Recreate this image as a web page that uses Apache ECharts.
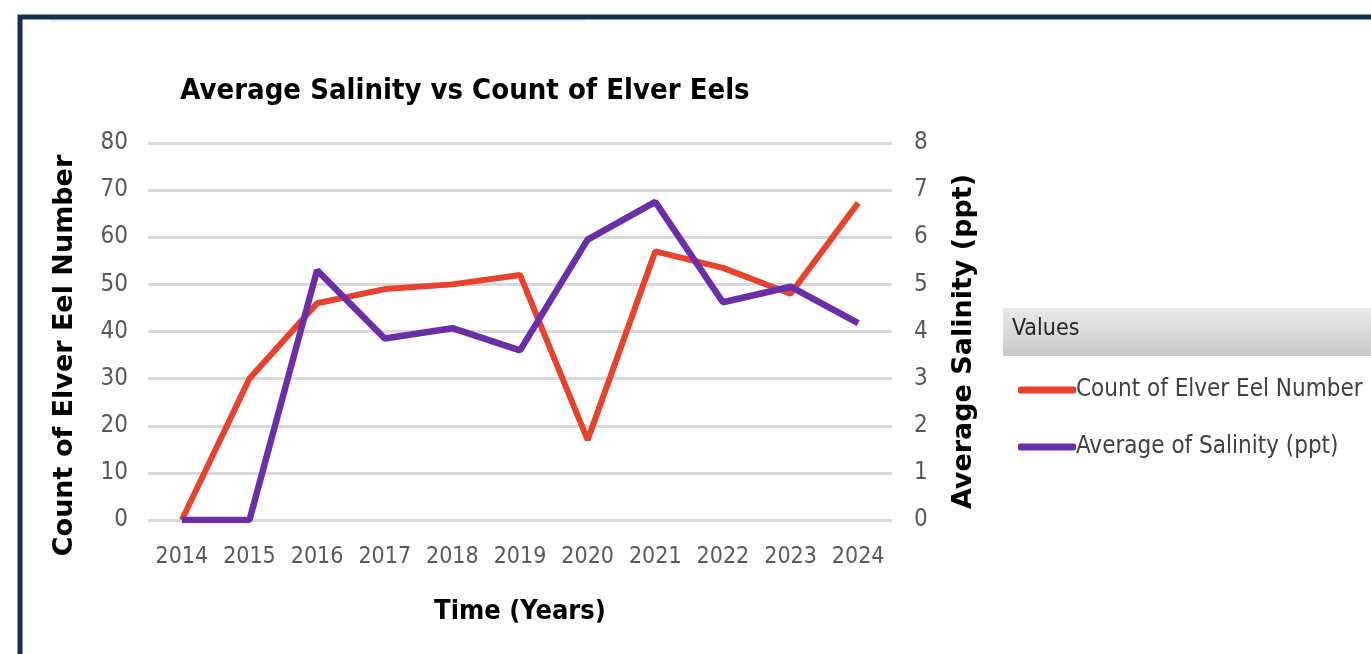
<!DOCTYPE html>
<html lang="en">
<head>
    <meta charset="UTF-8">
    <title>Average Salinity vs Count of Elver Eels</title>
    <style>
        html,body{
            margin: 0;
            height: 100%;
            background: #fff;
        }
        #main{
            width: 1371px;
            height: 654px;
        }
    </style>
</head>
<body>
<script src="https://cdn.jsdelivr.net/npm/echarts@6/dist/echarts.min.js"></script>
<div id="main"></div>
<script>
    // data
    var years = ['2014', '2015', '2016', '2017', '2018', '2019', '2020', '2021', '2022', '2023', '2024'];
    var eelCount = [0, 30, 46, 49, 50, 52, 17, 57, 53.5, 48, 67.3];
    var salinity = [0, 0, 5.3, 3.85, 4.07, 3.6, 5.95, 6.75, 4.62, 4.95, 4.18];

    var narrow = "'Liberation Sans Narrow', 'Arial Narrow', 'DejaVu Sans Condensed', sans-serif";
    var wide = "'DejaVu Sans', Arial, sans-serif";

    var myEcharts = echarts.init(document.getElementById('main'));

    var option = {
        backgroundColor: '#fff',
        animation: false,
        title: {
            text: 'Average Salinity vs Count of Elver Eels',
            left: 460,
            top: 72,
            textAlign: 'center',
            textStyle: {
                fontFamily: narrow,
                fontSize: 29,
                fontWeight: 'bold',
                color: '#000'
            }
        },
        legend: {
            orient: 'vertical',
            left: 1013,
            top: 373,
            itemWidth: 58,
            itemHeight: 7,
            itemGap: 33,
            icon: 'roundRect',
            textStyle: {
                fontFamily: narrow,
                fontSize: 24,
                color: '#404040',
                padding: [0, 0, 0, -5]
            },
            data: ['Count of Elver Eel Number', 'Average of Salinity (ppt)']
        },
        grid: {
            left: 148,
            right: 479,
            top: 143,
            bottom: 134
        },
        xAxis: {
            type: 'category',
            data: years,
            name: 'Time (Years)',
            nameLocation: 'middle',
            nameGap: 78,
            nameTextStyle: {
                fontFamily: narrow,
                fontSize: 27,
                fontWeight: 'bold',
                color: '#000'
            },
            axisLine: { show: false },
            axisTick: { show: false },
            axisLabel: {
                interval: 0,
                margin: 26,
                fontFamily: narrow,
                fontSize: 23,
                color: '#595959'
            }
        },
        yAxis: [{
            type: 'value',
            min: 0,
            max: 80,
            interval: 10,
            name: 'Count of Elver Eel Number',
            nameLocation: 'middle',
            nameGap: 70,
            nameTextStyle: {
                fontFamily: wide,
                fontSize: 27,
                fontWeight: 'bold',
                color: '#000',
                padding: [0, 48, 0, 0]
            },
            axisLabel: {
                margin: 20,
                fontFamily: narrow,
                fontSize: 24,
                color: '#595959'
            },
            splitLine: {
                lineStyle: { color: '#d9d9d9', width: 3 }
            }
        }, {
            type: 'value',
            min: 0,
            max: 8,
            interval: 1,
            name: 'Average Salinity (ppt)',
            nameLocation: 'middle',
            nameGap: 58,
            nameRotate: 90,
            nameTextStyle: {
                fontFamily: wide,
                fontSize: 27,
                fontWeight: 'bold',
                color: '#000',
                padding: [0, 20, 0, 0]
            },
            axisLabel: {
                margin: 22,
                fontFamily: narrow,
                fontSize: 24,
                color: '#595959'
            },
            splitLine: { show: false }
        }],
        series: [{
            name: 'Count of Elver Eel Number',
            type: 'line',
            yAxisIndex: 0,
            data: eelCount,
            showSymbol: false,
            symbol: 'none',
            color: '#e8412c',
            lineStyle: { width: 6, color: '#e8412c' }
        }, {
            name: 'Average of Salinity (ppt)',
            type: 'line',
            yAxisIndex: 1,
            data: salinity,
            showSymbol: false,
            symbol: 'none',
            color: '#6a2fa8',
            lineStyle: { width: 6.5, color: '#6a2fa8' }
        }],
        graphic: [{
            type: 'rect',
            shape: { x: 20, y: 17, width: 1400, height: 700 },
            style: { fill: 'none', stroke: '#15304f', lineWidth: 5 }
        }, {
            type: 'line',
            shape: { x1: 50, y1: 21, x2: 585, y2: 21 },
            style: { stroke: '#eeeeee', lineWidth: 2 }
        }, {
            type: 'rect',
            shape: { x: 1003, y: 308, width: 380, height: 48 },
            style: {
                fill: new echarts.graphic.LinearGradient(0, 0, 0, 1, [
                    { offset: 0, color: '#e9e9e9' },
                    { offset: 1, color: '#c9c9c9' }
                ])
            }
        }, {
            type: 'text',
            left: 1012,
            top: 318,
            style: {
                text: 'Values',
                fontFamily: narrow,
                fontSize: 23,
                fill: '#262626'
            }
        }]
    };

    myEcharts.setOption(option);
    window.addEventListener('resize', () => {
        myEcharts.resize()
    })
</script>
</body>
</html>
